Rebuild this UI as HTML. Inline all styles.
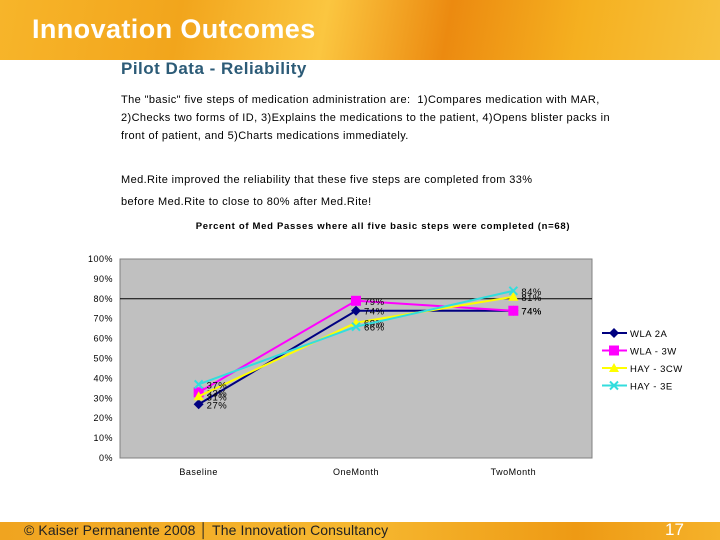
<!DOCTYPE html>
<html><head><meta charset="utf-8"><style>
body{margin:0;width:720px;height:540px;position:relative;overflow:hidden;background:#fff;font-family:"Liberation Sans",sans-serif}
.hdr{position:absolute;left:0;top:0;width:720px;height:60px;background:linear-gradient(100deg,#f7b52a 0%,#f2a51c 25%,#fbc640 45%,#ec8a10 62%,#f5b020 80%,#f7c23e 100%)}
.ftr{position:absolute;left:0;top:522px;width:720px;height:18px;background:linear-gradient(90deg,#f0a420,#f6b830 50%,#ee9a14 80%,#f5b22a)}
p{margin:0;position:absolute;left:121px;font-size:11px;color:#000;white-space:nowrap;letter-spacing:0.4px}
svg text{letter-spacing:0.5px}
</style></head><body>
<div class="hdr"></div>
<div style="position:absolute;left:32px;top:14px;font-size:27px;font-weight:bold;color:#fff;letter-spacing:0.4px">Innovation Outcomes</div>
<div style="position:absolute;left:121px;top:59px;font-size:17px;font-weight:bold;color:#2c5b77;letter-spacing:0.5px">Pilot Data - Reliability</div>
<p style="top:91px;line-height:18px">The "basic" five steps of medication administration are:&nbsp; 1)Compares medication with MAR,<br>2)Checks two forms of ID, 3)Explains the medications to the patient, 4)Opens blister packs in<br>front of patient, and 5)Charts medications immediately.</p>
<p style="top:169px;line-height:22px">Med.Rite improved the reliability that these five steps are completed from 33%<br>before Med.Rite to close to 80% after Med.Rite!</p>
<svg id="chart" width="720" height="540" style="position:absolute;left:0;top:0" font-family="Liberation Sans, sans-serif"></svg>
<div class="ftr"></div>
<div style="position:absolute;left:24px;top:522px;font-size:14px;color:#222;letter-spacing:0.1px">© Kaiser Permanente 2008 │ The Innovation Consultancy</div>
<div style="position:absolute;left:665px;top:520px;font-size:17px;color:#fff">17</div>
<script>
const categories=["Baseline","OneMonth","TwoMonth"];
const seriesNames=["WLA   2A","WLA - 3W","HAY - 3CW","HAY - 3E"];
const wla2a=[27,74,74];
const wla3w=[33,79,74];
const hay3cw=[31,68,81];
const hay3e=[37,66,84];
const yTicks=[0,10,20,30,40,50,60,70,80,90,100];
const series=[wla2a,wla3w,hay3cw,hay3e];
const colors=["#000080","#ff00ff","#ffff00","#33dddd"];
const svg=document.getElementById('chart');const NS="http://www.w3.org/2000/svg";
const X0=120,X1=592,Y0=458,Y1=259;
const y=v=>Y0-(v/100)*(Y0-Y1);
const x=i=>X0+(X1-X0)*(i+0.5)/categories.length;
function mk(t,a,p){const e=document.createElementNS(NS,t);for(const k in a)e.setAttribute(k,a[k]);(p||svg).appendChild(e);return e;}
let e=mk('text',{x:383,y:229,'font-size':9.5,'font-weight':'bold','text-anchor':'middle',style:'letter-spacing:0.7px'});e.textContent="Percent of Med Passes where all five basic steps were completed (n=68)";


e=mk('rect',{x:X0,y:Y1,width:X1-X0,height:Y0-Y1,fill:'#c0c0c0',stroke:'#808080'});


e=mk('line',{x1:X0,x2:X1,y1:y(80),y2:y(80),stroke:'#000'});


yTicks.forEach(t=>{e=mk('text',{x:113,y:y(t)+3,'font-size':9,'text-anchor':'end'});e.textContent=t+"%";

});
categories.forEach((c,i)=>{e=mk('text',{x:x(i),y:475,'font-size':9,'text-anchor':'middle'});e.textContent=c;

});
function marker(s,cx,cy,g){const c=colors[s];
if(s===0)mk('polygon',{points:`${cx},${cy-5} ${cx+5},${cy} ${cx},${cy+5} ${cx-5},${cy}`,fill:c},g);
else if(s===1)mk('rect',{x:cx-5,y:cy-5,width:10,height:10,fill:c},g);
else if(s===2)mk('polygon',{points:`${cx},${cy-5} ${cx+5},${cy+4} ${cx-5},${cy+4}`,fill:c},g);
else{mk('path',{d:`M${cx-4} ${cy-4}L${cx+4} ${cy+4}M${cx-4} ${cy+4}L${cx+4} ${cy-4}`,stroke:c,'stroke-width':2},g);}}
series.forEach((d,s)=>{const g=mk('g',{});


mk('polyline',{points:d.map((v,i)=>x(i)+','+y(v)).join(' '),fill:'none',stroke:colors[s],'stroke-width':2},g);
d.forEach((v,i)=>{marker(s,x(i),y(v),g);const t=mk('text',{x:x(i)+8,y:y(v)+4,'font-size':9.5},g);t.textContent=v+"%";});});
seriesNames.forEach((n,s)=>{const g=mk('g',{});


const ly=333+s*17.5;mk('line',{x1:602,x2:627,y1:ly,y2:ly,stroke:colors[s],'stroke-width':2},g);marker(s,614,ly,g);
const t=mk('text',{x:630,y:ly+4,'font-size':9.5},g);t.textContent=n;});
</script>
</body></html>
